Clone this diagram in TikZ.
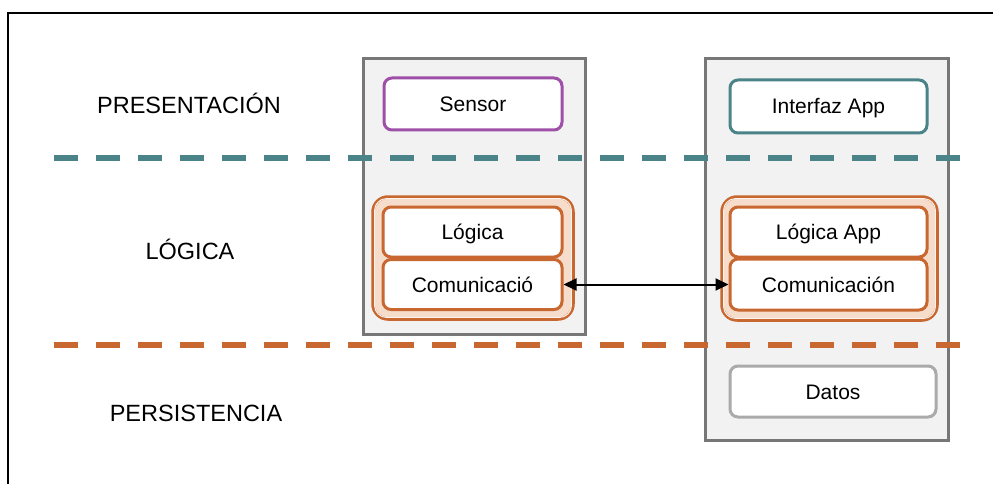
\documentclass[tikz,border=0pt]{standalone}
\usepackage{fontspec}
\setmainfont{Liberation Sans}
\usetikzlibrary{arrows.meta}
\definecolor{tealc}{HTML}{4A8388}
\definecolor{orangec}{HTML}{C8672F}
\definecolor{purplec}{HTML}{9E4FA8}
\definecolor{peach}{HTML}{F6DCCB}
\definecolor{tiergray}{HTML}{777777}
\definecolor{tierfill}{HTML}{F2F2F2}
\definecolor{datagray}{HTML}{AAAAAA}
\tikzset{
  layerlabel/.style={font=\fontsize{23.5}{28}\selectfont, inner sep=0pt},
  tier/.style={draw=tiergray, fill=tierfill, line width=3pt},
  comp/.style={rectangle, rounded corners=8pt, fill=white, line width=3pt,
    font=\fontsize{21}{25}\selectfont, inner sep=0pt, text height=15pt, text depth=0pt},
  group/.style={rectangle, rounded corners=15pt, draw=orangec, fill=peach, line width=3.5pt, inner sep=0pt},
  groupedge/.style={draw=peach!35!white, line width=1pt, rounded corners=12pt},
  layerline/.style={line width=5.5pt, dash pattern=on 24pt off 18pt},
}
\begin{document}
\begin{tikzpicture}[x=1pt, y=-1pt]
\useasboundingbox (0,0) rectangle (993,484);
% outer frame
\draw[line width=2pt] (8,490) -- (8,13) -- (1000,13);

% tiers
\draw[tier] (363,59) rectangle (585,334);
\draw[tier] (705,59) rectangle (948,440);

% presentation components
\node[comp, draw=purplec, minimum width=178pt, minimum height=52pt] (sensor) at (473,104) {Sensor};
\node[comp, draw=tealc, minimum width=197pt, minimum height=53pt] (ui) at (828.5,106.5) {Interfaz App};

% logic groups
\node[group, minimum width=200pt, minimum height=122pt] (lgrp) at (473,258) {};
\draw[groupedge] ([shift={(3.3,-3.3)}]lgrp.south west) rectangle ([shift={(-3.3,3.3)}]lgrp.north east);
\node[comp, draw=orangec, minimum width=179pt, minimum height=50pt] (logica) at (472.5,232) {Lógica};
\node[comp, draw=orangec, minimum width=179pt, minimum height=50pt] (comL) at (472.5,284.5) {Comunicació};

\node[group, minimum width=215pt, minimum height=123pt] (rgrp) at (829.5,258.5) {};
\draw[groupedge] ([shift={(3.3,-3.3)}]rgrp.south west) rectangle ([shift={(-3.3,3.3)}]rgrp.north east);
\node[comp, draw=orangec, minimum width=197pt, minimum height=50pt] (logicaApp) at (828.5,232) {Lógica App};
\node[comp, draw=orangec, minimum width=197pt, minimum height=51pt] (comR) at (828.5,284.5) {Comunicación};

% persistence
\node[comp, draw=datagray, minimum width=206pt, minimum height=51pt] (datos) at (833,391.5) {Datos};

% layer separators
\coordinate (t1) at (54,158);
\coordinate (t2) at (962,158);
\coordinate (o1) at (54,345);
\coordinate (o2) at (962,345);
\draw[layerline, draw=tealc] (t1) -- (t2);
\draw[layerline, draw=orangec] (o1) -- (o2);

% layer labels
\node[layerlabel] (lpres) at (189,103) {PRESENTACIÓN};
\node[layerlabel] (llog) at (190,249) {LÓGICA};
\node[layerlabel] (lpers) at (196,413) {PERSISTENCIA};

% communication link
\draw[line width=2pt, {Triangle[length=13pt,width=12pt]}-{Triangle[length=13pt,width=12pt]}] (comL.east) -- (comR.west);
\end{tikzpicture}
\end{document}
